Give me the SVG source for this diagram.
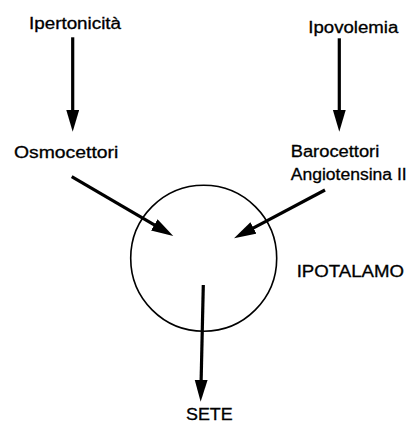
<svg xmlns="http://www.w3.org/2000/svg" width="408" height="423" viewBox="0 0 408 423">
<style>
  .lbl { font-family: "Liberation Sans", Arial, sans-serif; font-size: 16px; fill: #000; stroke: #000; stroke-width: 0.3; }
  .conn { stroke: #000; stroke-width: 3.2; fill: none; marker-end: url(#ah); }
  .node-shape { fill: none; stroke: #000; stroke-width: 1.6; }
</style>
<defs>
  <marker id="ah" markerUnits="userSpaceOnUse" markerWidth="24" markerHeight="14" refX="2" refY="6.5" orient="auto">
    <path d="M0,0 L22,6.5 L0,13 z" fill="#000"/>
  </marker>
</defs>
<rect width="408" height="423" fill="#fff"/>
<g id="ipertonicita"><text class="lbl" x="29" y="29.3" textLength="92" lengthAdjust="spacingAndGlyphs">Ipertonicità</text></g>
<g id="ipovolemia"><text class="lbl" x="308.3" y="33.3" textLength="90" lengthAdjust="spacingAndGlyphs">Ipovolemia</text></g>
<g id="osmocettori"><text class="lbl" x="14" y="158.3" textLength="104.3" lengthAdjust="spacingAndGlyphs">Osmocettori</text></g>
<g id="barocettori">
  <text class="lbl" x="290.7" y="156.7" textLength="88.6" lengthAdjust="spacingAndGlyphs">Barocettori</text>
  <text class="lbl" x="290.7" y="180" textLength="116" lengthAdjust="spacingAndGlyphs">Angiotensina II</text>
</g>
<g id="ipotalamo">
  <circle class="node-shape" cx="203.7" cy="258.3" r="73"/>
  <text class="lbl" x="296.7" y="276.7" textLength="107.3" lengthAdjust="spacingAndGlyphs">IPOTALAMO</text>
</g>
<g id="sete"><text class="lbl" x="186" y="419.5" textLength="46.7" lengthAdjust="spacingAndGlyphs">SETE</text></g>
<g id="connectors">
  <line class="conn" x1="72.7" y1="37.3" x2="72.7" y2="111.7"/>
  <line class="conn" x1="339.3" y1="38.3" x2="339.3" y2="111.7"/>
  <line class="conn" x1="71.7" y1="176.7" x2="156.0" y2="225.9"/>
  <line class="conn" x1="325" y1="190" x2="251.7" y2="228.9"/>
  <line class="conn" x1="203.3" y1="285" x2="201.1" y2="381.7"/>
</g>
</svg>
